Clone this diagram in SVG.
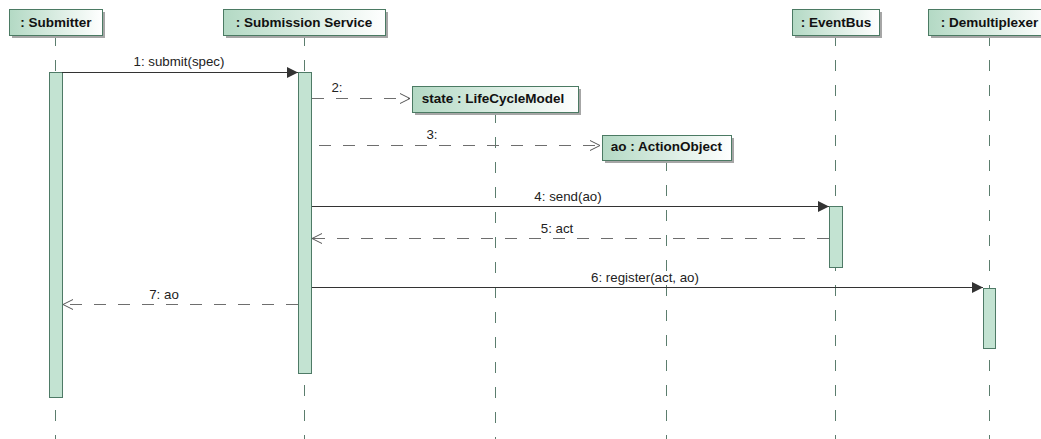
<svg xmlns="http://www.w3.org/2000/svg" width="1041" height="439" viewBox="0 0 1041 439">
<style>
.box{stroke:#4b7a63;stroke-width:1;fill:url(#g)}
.sh{fill:#a6a6a6}
.title{font-family:"Liberation Sans",Arial,sans-serif;font-size:13.5px;font-weight:bold;fill:#111;text-anchor:middle}
.life{stroke:#5b7d6d;stroke-width:1;stroke-dasharray:11 14;fill:none}
.act{fill:#c3e3d2;stroke:#4e7a66;stroke-width:1}
.sync{stroke:#333;stroke-width:1;fill:none;marker-end:url(#filled)}
.ret{stroke:#6e6e6e;stroke-width:1;stroke-dasharray:12 12;fill:none;marker-end:url(#open)}
.lbl{font-family:"Liberation Sans",Arial,sans-serif;font-size:13.3px;fill:#222;text-anchor:middle}
</style>
<defs>
<linearGradient id="g" x1="0" y1="0" x2="1" y2="0">
<stop offset="0" stop-color="#b3d9c4"/>
<stop offset="1" stop-color="#ffffff"/>
</linearGradient>
<marker id="filled" markerUnits="userSpaceOnUse" markerWidth="11" markerHeight="11" refX="10" refY="5" orient="auto" viewBox="0 0 10 10">
<path d="M0,0 L10,5 L0,10 z" fill="#333"/>
</marker>
<marker id="open" markerUnits="userSpaceOnUse" markerWidth="12" markerHeight="12" refX="10" refY="5" orient="auto" viewBox="-1 -1 12 12">
<path d="M0,0 L10,5 L0,10" fill="none" stroke="#555" stroke-width="1"/>
</marker>
</defs>
<rect width="1041" height="439" fill="#ffffff"/>

<g id="lifelines">
<line class="life" x1="55.5" y1="35" x2="55.5" y2="439"/>
<line class="life" x1="304.5" y1="35" x2="304.5" y2="439"/>
<line class="life" x1="495.5" y1="112" x2="495.5" y2="439"/>
<line class="life" x1="666.5" y1="160" x2="666.5" y2="439"/>
<line class="life" x1="835.5" y1="35" x2="835.5" y2="439"/>
<line class="life" x1="989.5" y1="35" x2="989.5" y2="439"/>
</g>

<g id="activations">
<rect class="act" x="49.5" y="72.5" width="13" height="325"/>
<rect class="act" x="298.5" y="72.5" width="13" height="301"/>
<rect class="act" x="829.5" y="206.5" width="13" height="61"/>
<rect class="act" x="983.5" y="288.5" width="12" height="60"/>
</g>

<g id="connectors">
<line class="sync" x1="62" y1="72.5" x2="298" y2="72.5"/>
<text class="lbl" x="179" y="66">1: submit(spec)</text>
<line class="ret" x1="312" y1="98.5" x2="410" y2="98.5"/>
<text class="lbl" x="337" y="92">2:</text>
<line class="ret" x1="319" y1="145.5" x2="600" y2="145.5"/>
<text class="lbl" x="432" y="139">3:</text>
<line class="sync" x1="312" y1="206.5" x2="829" y2="206.5"/>
<text class="lbl" x="568" y="201">4: send(ao)</text>
<line class="ret" x1="829" y1="238.5" x2="312" y2="238.5"/>
<text class="lbl" x="557" y="233">5: act</text>
<line class="sync" x1="312" y1="287.5" x2="983" y2="287.5"/>
<text class="lbl" x="645" y="282">6: register(act, ao)</text>
<line class="ret" x1="298" y1="304.5" x2="63" y2="304.5"/>
<text class="lbl" x="164" y="299">7: ao</text>
</g>

<g id="submitter">
<rect class="sh" x="12" y="12" width="93" height="26"/>
<rect class="box" x="9.5" y="9.5" width="93" height="26"/>
<text class="title" x="56" y="27">: Submitter</text>
</g>
<g id="submission-service">
<rect class="sh" x="226" y="12" width="162" height="26"/>
<rect class="box" x="223.5" y="9.5" width="162" height="26"/>
<text class="title" x="304" y="27">: Submission Service</text>
</g>
<g id="state-lifecyclemodel">
<rect class="sh" x="415" y="89" width="166" height="26"/>
<rect class="box" x="412.5" y="86.5" width="166" height="26"/>
<text class="title" x="493" y="103">state : LifeCycleModel</text>
</g>
<g id="ao-actionobject">
<rect class="sh" x="605" y="138" width="129" height="25"/>
<rect class="box" x="602.5" y="135.5" width="129" height="25"/>
<text class="title" x="666.5" y="151">ao : ActionObject</text>
</g>
<g id="eventbus">
<rect class="sh" x="795" y="12" width="87" height="26"/>
<rect class="box" x="792.5" y="9.5" width="87" height="26"/>
<text class="title" x="836" y="27">: EventBus</text>
</g>
<g id="demultiplexer">
<rect class="sh" x="931" y="12" width="122" height="26"/>
<rect class="box" x="928.5" y="9.5" width="122" height="26"/>
<text class="title" x="989.5" y="27">: Demultiplexer</text>
</g>
</svg>
